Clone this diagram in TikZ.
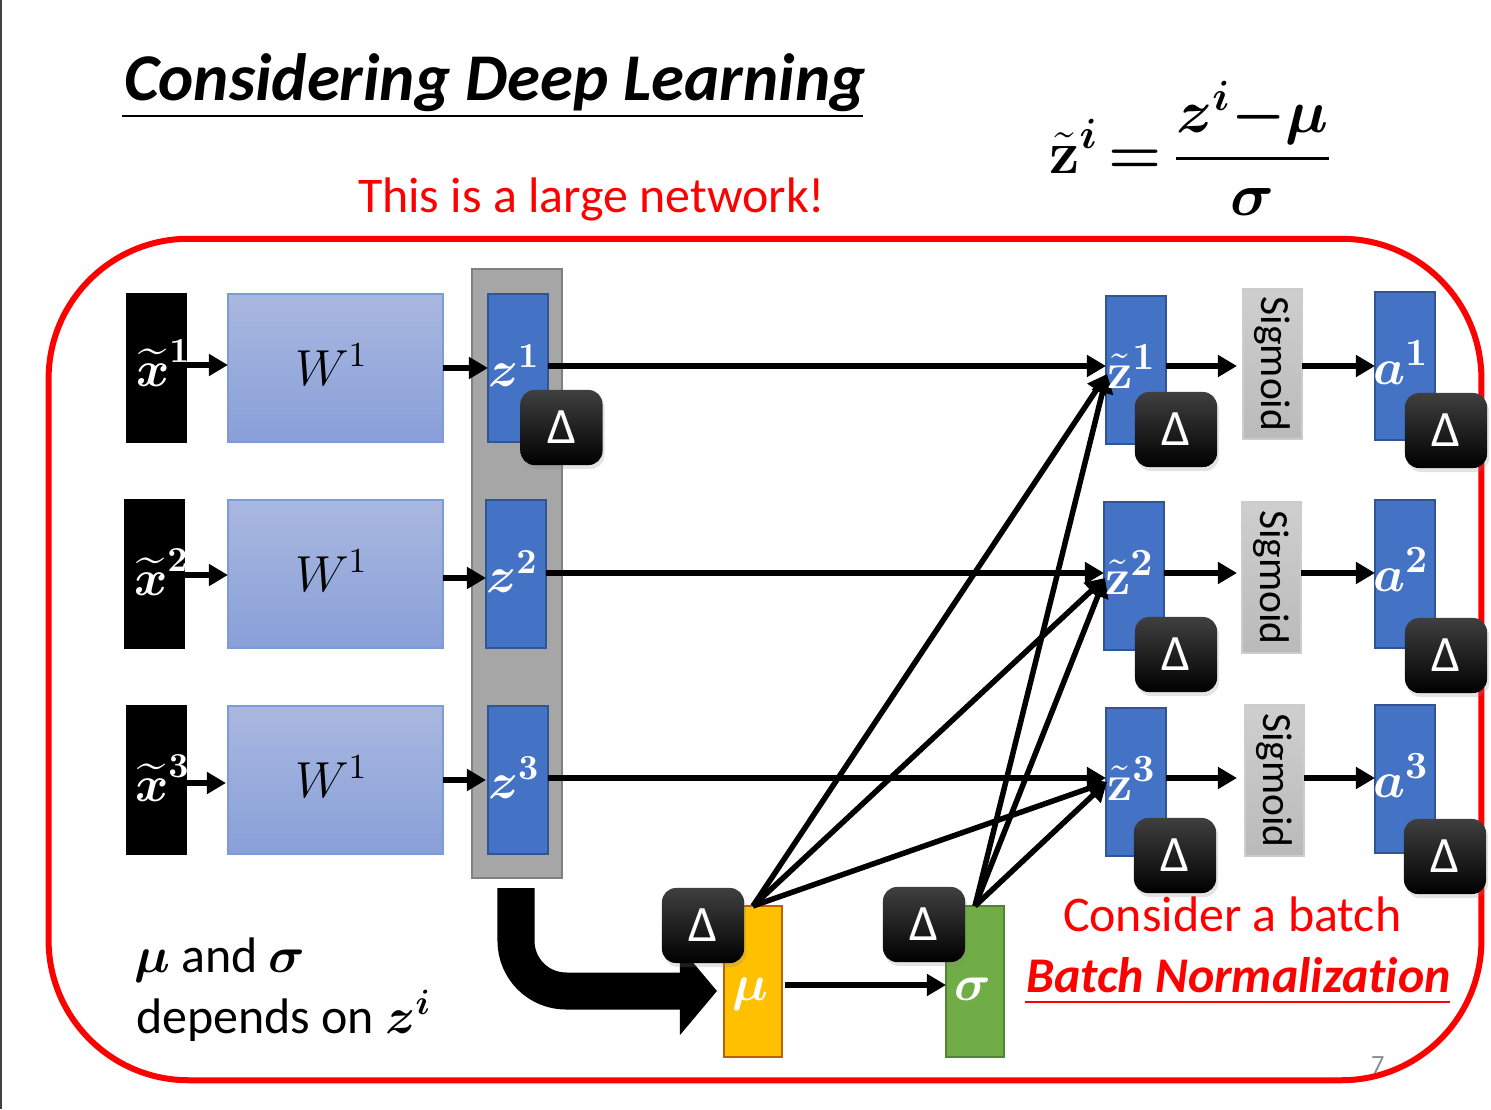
\documentclass[tikz,border=0pt]{standalone}
\usepackage{amsmath}
\usepackage[no-math]{fontspec}
\usepackage{graphicx}
\setmainfont[Ligatures=NoCommon]{Carlito}
\usetikzlibrary{arrows.meta,shadows}

\definecolor{latentblue}{HTML}{4472C4}
\definecolor{latentedge}{HTML}{2F5597}
\definecolor{weighttop}{HTML}{A9B8E0}
\definecolor{weightbot}{HTML}{889FD8}
\definecolor{weightedge}{HTML}{7C9CD8}
\definecolor{netred}{HTML}{FF0000}

\newcommand{\dlt}{\raisebox{-.5pt}{Δ}}

\tikzset{
  plainbar/.style={minimum width=6mm, minimum height=14.8mm, inner sep=0pt, outer sep=0pt},
  inputbar/.style={plainbar, fill=black, minimum height=15mm},
  weightbox/.style={plainbar, minimum width=21.5mm, draw=weightedge, line width=.2mm, top color=weighttop, bottom color=weightbot},
  latentbar/.style={plainbar, draw=latentedge, line width=.2mm, fill=latentblue},
  sigmoidbox/.style={plainbar, minimum width=5.9mm, minimum height=15mm, draw=black!20, line width=.2mm, top color=black!19, bottom color=black!27, font=\fontsize{11.8}{13}\selectfont},
  statbar/.style={plainbar, minimum width=5.8mm, minimum height=15.1mm, line width=.25mm},
  deltabox/.style={minimum width=8.2mm, minimum height=7.5mm, inner sep=0pt, rounded corners=1.4mm, top color=black!75, middle color=black, bottom color=black, text=white, font=\fontsize{14.5}{16}\selectfont, drop shadow={opacity=.22, shadow xshift=.2mm, shadow yshift=-.4mm}},
  mathtext/.style={anchor=base west, inner sep=0pt, outer sep=0pt, font=\fontsize{15}{17}\selectfont},
  whitemath/.style={mathtext, text=white},
  slidetext/.style={anchor=base west, inner sep=0pt, outer sep=0pt, font=\fontsize{14.2}{17}\selectfont},
  flow/.style={line width=.55mm, -{Triangle[length=1.9mm,width=2.1mm]}},
  bigflow/.style={line width=3.7mm, rounded corners=5mm, -{Triangle[length=3.7mm,width=8.6mm]}}
}

\begin{document}
\begin{tikzpicture}[x=0.01cm, y=-0.01cm]
  \useasboundingbox (0,0) rectangle (1491,1109);

  \coordinate (edgetop) at (1,0);
  \coordinate (edgebot) at (1,1109);
  \draw[black!75, line width=.2mm] (edgetop) -- (edgebot);

  % title and formula
  \node[slidetext, font=\fontsize{19}{23}\selectfont\bfseries\itshape] (title) at (124,100) {Considering Deep Learning};
  \coordinate (titlea) at (122,116);
  \coordinate (titleb) at (863,116);
  \draw[line width=.2mm] (titlea) -- (titleb);
  \node[inner sep=0pt, font=\fontsize{16.5}{20}\selectfont] (formula) at (1191,148) {$\medmuskip=0mu \thickmuskip=3mu \displaystyle \tilde{\mathbf{z}}^{\boldsymbol{i}} \boldsymbol{=} \genfrac{}{}{.95pt}{0}{\boldsymbol{z}^{\boldsymbol{i}} \boldsymbol{-} \boldsymbol{\mu}}{\boldsymbol{\sigma}}$};
  \node[slidetext, text=netred] (large) at (358,212) {This is a large network!};

  % outer frame
  \node[draw=netred, line width=.6mm, rounded corners=14mm, minimum width=143.2mm, minimum height=84.1mm, inner sep=0pt, outer sep=0pt] (net) at (765,659.5) {};

  % rows
  \node[inputbar] (x1) at (156.5,368) {};
  \node[inputbar] (x2) at (154.5,574) {};
  \node[inputbar] (x3) at (156.5,780) {};

  \node[weightbox] (w1) at (335.5,368) {};
  \node[weightbox] (w2) at (335.5,574) {};
  \node[weightbox] (w3) at (335.5,780) {};

  \node[draw=black!50, line width=.25mm, fill=black!35, minimum width=9mm, minimum height=60.9mm, inner sep=0pt, outer sep=0pt] (gather) at (517,573.5) {};

  \node[latentbar] (z1) at (518,368) {};
  \node[latentbar] (z2) at (516,574) {};
  \node[latentbar] (z3) at (518,780) {};

  \node[latentbar] (zt1) at (1136,370) {};
  \node[latentbar] (zt2) at (1134,576) {};
  \node[latentbar] (zt3) at (1136,782) {};

  \node[sigmoidbox] (s1) at (1272.5,364) {\rotatebox{-90}{Sigmoid}};
  \node[sigmoidbox] (s2) at (1271.5,577.5) {\rotatebox{-90}{Sigmoid}};
  \node[sigmoidbox] (s3) at (1274.5,780.5) {\rotatebox{-90}{Sigmoid}};

  \node[latentbar] (a1) at (1405,366) {};
  \node[latentbar] (a2) at (1405,574) {};
  \node[latentbar] (a3) at (1405,779) {};

  \node[statbar, draw=black!25!orange, fill={rgb,255:red,255;green,192;blue,0}] (mu) at (753,981.5) {};
  \node[statbar, draw={rgb,255:red,84;green,130;blue,53}, fill={rgb,255:red,112;green,173;blue,71}] (sigma) at (975,981.5) {};

  % levels of the horizontal arrows
  \coordinate (r1) at (0,366);
  \coordinate (r2) at (0,573);
  \coordinate (r3) at (0,778);
  \coordinate (in1) at (1107,374);
  \coordinate (in2) at (1105,578);
  \coordinate (in3) at (1107,782);
  \coordinate (gatherin) at (516,888);
  \coordinate (gatherout) at (717,991);

  \draw[flow] ([yshift=.3mm]x1.east) -- ([yshift=.3mm]w1.west);
  \draw[flow] ([yshift=-.1mm]x2.east) -- ([yshift=-.1mm]w2.west);
  \draw[flow] ([yshift=-.3mm]x3.east) -- ([yshift=-.3mm,xshift=-.2mm]w3.west);

  \draw[flow] (w1.east) -- (z1.west);
  \draw[flow] ([yshift=-.4mm]w2.east) -- ([yshift=-.4mm]z2.west);
  \draw[flow] (w3.east) -- ([xshift=-.2mm]z3.west);

  \draw[flow] (z1.east|-r1) -- (zt1.west|-r1);
  \draw[flow] (z2.east|-r2) -- (zt2.west|-r2);
  \draw[flow] (z3.east|-r3) -- (zt3.west|-r3);

  \draw[flow] (zt1.east|-r1) -- ([xshift=-.6mm]s1.west|-r1);
  \draw[flow] (zt2.east|-r2) -- ([xshift=-.5mm]s2.west|-r2);
  \draw[flow] (zt3.east|-r3) -- ([xshift=-.8mm]s3.west|-r3);

  \draw[flow] (s1.east|-r1) -- (a1.west|-r1);
  \draw[flow] (s2.east|-r2) -- (a2.west|-r2);
  \draw[flow] (s3.east|-r3) -- (a3.west|-r3);

  \draw[flow] (mu.north) -- (in1);
  \draw[flow] (mu.north) -- (in2);
  \draw[flow] (mu.north) -- (in3);
  \draw[flow] (sigma.north) -- (in1);
  \draw[flow] (sigma.north) -- (in2);
  \draw[flow] (sigma.north) -- (in3);

  \draw[flow] ([xshift=.3mm,yshift=-.35mm]mu.east) -- ([yshift=-.35mm]sigma.west);

  \draw[bigflow] (gatherin) |- (gatherout);

  % delta tags
  \node[deltabox] (dz1) at (561.5,427.5) {\dlt};
  \node[deltabox] (dzt1) at (1176,429.5) {\dlt};
  \node[deltabox] (da1) at (1446,430.5) {\dlt};
  \node[deltabox] (dzt2) at (1176,654.5) {\dlt};
  \node[deltabox] (da2) at (1446,655.5) {\dlt};
  \node[deltabox] (dzt3) at (1175,855.5) {\dlt};
  \node[deltabox] (da3) at (1445,856.5) {\dlt};
  \node[deltabox] (dmu) at (703,925.5) {\dlt};
  \node[deltabox] (dsigma) at (924,924.5) {\dlt};

  % labels on the bars
  \node[whitemath, font=\fontsize{14}{17}\selectfont] (tx1) at (136,386) {$\widetilde{\boldsymbol{x}}^{\mathbf{1}}$};
  \node[whitemath, font=\fontsize{14}{17}\selectfont] (tx2) at (134,595) {$\widetilde{\boldsymbol{x}}^{\mathbf{2}}$};
  \node[whitemath, font=\fontsize{14}{17}\selectfont] (tx3) at (135,801) {$\widetilde{\boldsymbol{x}}^{\mathbf{3}}$};

  \node[mathtext, font=\fontsize{14.5}{17}\selectfont] (tw1) at (295,385) {$W^1$};
  \node[mathtext, font=\fontsize{14.5}{17}\selectfont] (tw2) at (295,591) {$W^1$};
  \node[mathtext, font=\fontsize{14.5}{17}\selectfont] (tw3) at (295,797) {$W^1$};

  \node[whitemath, font=\fontsize{14.3}{17}\selectfont] (tz1) at (488,386) {$\boldsymbol{z}^{\mathbf{1}}$};
  \node[whitemath, font=\fontsize{14.3}{17}\selectfont] (tz2) at (486,592) {$\boldsymbol{z}^{\mathbf{2}}$};
  \node[whitemath, font=\fontsize{14.3}{17}\selectfont] (tz3) at (488,798) {$\boldsymbol{z}^{\mathbf{3}}$};

  \node[whitemath] (tzt1) at (1107,388) {$\tilde{\mathbf{z}}^{\mathbf{1}}$};
  \node[whitemath] (tzt2) at (1105,594) {$\tilde{\mathbf{z}}^{\mathbf{2}}$};
  \node[whitemath] (tzt3) at (1107,800) {$\tilde{\mathbf{z}}^{\mathbf{3}}$};

  \node[whitemath] (ta1) at (1373,384) {$\boldsymbol{a}^{\mathbf{1}}$};
  \node[whitemath] (ta2) at (1373,591) {$\boldsymbol{a}^{\mathbf{2}}$};
  \node[whitemath] (ta3) at (1373,797) {$\boldsymbol{a}^{\mathbf{3}}$};

  \node[whitemath] (tmu) at (732,1000) {$\boldsymbol{\mu}$};
  \node[whitemath] (tsigma) at (954,1000) {$\boldsymbol{\sigma}$};

  % notes
  \node[slidetext] (note1) at (134,972) {$\boldsymbol{\mu}$ and $\boldsymbol{\sigma}$};
  \node[slidetext] (note2) at (136,1033) {depends on $\boldsymbol{z}^{\boldsymbol{i}}$};
  \node[slidetext, text=netred] (batch) at (1063,931) {Consider a batch};
  \node[slidetext, text=netred, font=\fontsize{14.2}{17}\selectfont\bfseries\itshape] (bn) at (1026,992) {Batch Normalization};
  \coordinate (bna) at (1025,1002);
  \coordinate (bnb) at (1450,1002);
  \draw[netred, line width=.15mm] (bna) -- (bnb);
  \node[slidetext, text=black!45, font=\fontsize{7.5}{9}\selectfont] (page) at (1371,1073) {7};
\end{tikzpicture}
\end{document}
